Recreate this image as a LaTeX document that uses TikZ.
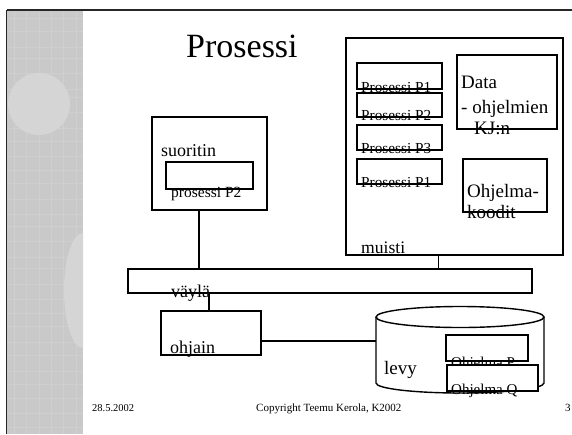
\documentclass[tikz,border=0pt]{standalone}
\usepackage{fontspec}
\setmainfont{Liberation Serif}
\newcommand{\txtsize}[1]{\fontsize{#1}{#1}\selectfont}
\definecolor{stripgray}{HTML}{C9C9C9}
\definecolor{stripline}{HTML}{D2D2D2}
\definecolor{blobgray}{HTML}{D5D5D5}
\begin{document}
\begin{tikzpicture}[x=1pt,y=-1pt,
  box/.style={draw=black,fill=white,line width=1.4pt,rectangle,inner sep=0pt},
  wire/.style={draw=black,line width=1.4pt},
  lbl/.style={anchor=base west,inner sep=0pt,text=black},
]
\useasboundingbox (0,0) rectangle (572,434);
\fill[white] (0,0) rectangle (572,434);

% decorative side strip
\fill[stripgray] (7,10) rectangle (83,434);
\begin{scope}
  \clip (7,10) rectangle (83,434);
  \foreach \yy in {18,31,47,58,73,89,97,112,128,141,156,170,183,199,214,226,241,257,268,284,299,313,326,342,355,371,384,398,413,427}
    \draw[stripline,line width=0.7pt,opacity=0.7] (7,\yy) -- (83,\yy);
  \foreach \xx in {14,26,39,51,63,76}
    \draw[stripline,line width=0.7pt,opacity=0.7] (\xx,10) -- (\xx,434);
  \fill[blobgray] (39,104) circle (31);
  \fill[blobgray] (83,290.5) ellipse (19 and 57.5);
\end{scope}
% slide frame
\draw[black!85,line width=1.5pt] (6.5,10) -- (572,10);
\draw[black!85,line width=1.5pt] (6.5,10) -- (6.5,434);

% title
\node[lbl] (title) at (186,57) {\txtsize{34}Prosessi};

% processor
\node[box,minimum width=115pt,minimum height=93pt] (cpu) at (209.5,163.5) {};
\node[lbl] (cpulbl) at (161,156) {\txtsize{18}suoritin};
\node[box,minimum width=87pt,minimum height=27pt] (cpuproc) at (209.5,175.5) {};
\node[lbl] (cpuproclbl) at (171,197) {\txtsize{15.5}prosessi P2};

% memory
\node[box,minimum width=217pt,minimum height=217pt] (mem) at (454.5,146.5) {};
\node[lbl] (memlbl) at (361,253) {\txtsize{17.6}muisti};
\node[box,minimum width=85pt,minimum height=26pt] (p1) at (399.5,76) {};
\node[lbl] (p1lbl) at (361,92.5) {\txtsize{15.3}Prosessi P1};
\node[box,minimum width=85pt,minimum height=24pt] (p2) at (399.5,105) {};
\node[lbl] (p2lbl) at (361,120.5) {\txtsize{15.3}Prosessi P2};
\node[box,minimum width=85pt,minimum height=25pt] (p3) at (399.5,137.5) {};
\node[lbl] (p3lbl) at (361,153.5) {\txtsize{15.3}Prosessi P3};
\node[box,minimum width=85pt,minimum height=25pt] (p4) at (399.5,171.5) {};
\node[lbl] (p4lbl) at (361,187.5) {\txtsize{15.3}Prosessi P1};
\node[box,minimum width=100pt,minimum height=74pt] (data) at (507,92) {};
\node[lbl] (datalbl1) at (461,88) {\txtsize{19}Data};
\node[lbl] (datalbl2) at (461,113) {\txtsize{19}- ohjelmien};
\node[lbl] (datalbl3) at (474,134) {\txtsize{19}KJ:n};
\node[box,minimum width=84pt,minimum height=53pt] (code) at (505,185.5) {};
\node[lbl] (codelbl1) at (467,197) {\txtsize{19}Ohjelma-};
\node[lbl] (codelbl2) at (467,218) {\txtsize{19}koodit};

% bus
\node[box,minimum width=404pt,minimum height=24pt] (bus) at (330,281) {};
\node[lbl] (buslbl) at (171,297) {\txtsize{18}väylä};

% controller
\node[box,minimum width=100pt,minimum height=44pt] (ctrl) at (211,333) {};
\node[lbl] (ctrllbl) at (170,353) {\txtsize{18}ohjain};

% disk drawn as a cylinder
\filldraw[wire,fill=white] (376,317) -- (376,383)
  arc[start angle=180,end angle=360,x radius=84,y radius=-10]
  -- (544,317);
\filldraw[wire,fill=white] (460,317) ellipse (84 and 10.5);
\coordinate (disk) at (376,341);
\node[lbl] (disklbl) at (384,374) {\txtsize{19}levy};
\node[box,minimum width=82pt,minimum height=26pt] (progp) at (487,348) {};
\node[lbl] (progplbl) at (451,367) {\txtsize{15}Ohjelma P};
\node[box,minimum width=91pt,minimum height=26pt] (progq) at (492.5,378) {};
\node[lbl] (progqlbl) at (451,394) {\txtsize{15}Ohjelma Q};

% connections
\coordinate (tapcpu) at (199,0);
\coordinate (tapmem) at (438.5,0);
\coordinate (tapctrl) at (209,0);
\draw[wire] (cpu.south -| tapcpu) -- (bus.north -| tapcpu);
\draw[wire] (mem.south -| tapmem) -- (bus.north -| tapmem);
\draw[wire] (bus.south -| tapctrl) -- (ctrl.north -| tapctrl);
\draw[wire] (ctrl.east |- disk) -- (disk);

% footer
\node[lbl] (date) at (92,411) {\txtsize{10.5}28.5.2002};
\node[lbl] (copy) at (256,411) {\txtsize{11}Copyright Teemu Kerola, K2002};
\node[lbl] (page) at (565,411) {\txtsize{11}3};
\end{tikzpicture}
\end{document}
